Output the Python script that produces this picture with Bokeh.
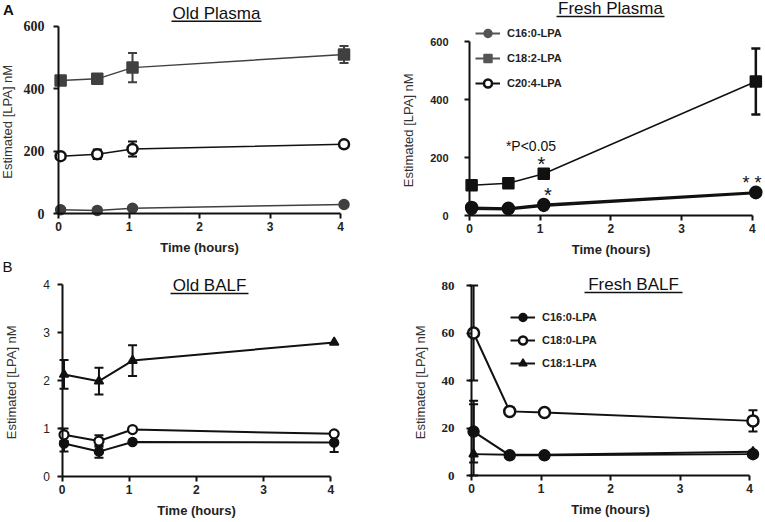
import numpy as np
from bokeh.plotting import figure
from bokeh.layouts import row, column
from bokeh.models import (ColumnDataSource, Whisker, TeeHead, Legend, LegendItem,
                          Label, FixedTicker, Range1d)
from bokeh.core.properties import value
from bokeh.embed import file_html
from bokeh.resources import INLINE

# ---------------- data ----------------
TIME = [0.03, 0.55, 1.05, 4.05]
X_TICKS = [0, 1, 2, 3, 4]

# Old plasma (A, left)
OP_C160 = [12, 10, 17, 29]
OP_C160_ERR = [0, 0, 0, 0]
OP_C182 = [427, 432, 468, 510]
OP_C182_ERR = [5, 15, 47, 27]
OP_C204 = [184, 190, 207, 222]
OP_C204_ERR = [5, 15, 24, 6]
OP_Y_TICKS = [0, 200, 400, 600]

# Fresh plasma (A, right)
FP_C160 = [22, 21, 33, 77]
FP_C182 = [104, 111, 144, 462]
FP_C182_ERR = [3, 4, 6, 114]
FP_C204 = [28, 25, 38, 80]
FP_Y_TICKS = [0, 200, 400, 600]
FP_LEGEND = ["C16:0-LPA", "C18:2-LPA", "C20:4-LPA"]
FP_STAR_TEXT = ["*", "*", "* *"]
FP_NOTE = "*P<0.05"

# Old BALF (B, left)
OB_C160 = [0.69, 0.52, 0.72, 0.71]
OB_C160_ERR = [0.17, 0.13, 0.0, 0.2]
OB_C180 = [0.87, 0.74, 0.98, 0.89]
OB_C180_ERR = [0.13, 0.12, 0.0, 0.03]
OB_C181 = [2.13, 1.99, 2.42, 2.8]
OB_C181_ERR = [0.3, 0.28, 0.32, 0.0]
OB_Y_TICKS = [0, 1, 2, 3, 4]

# Fresh BALF (B, right)
FB_C160 = [18.5, 8.5, 8.5, 9]
FB_C160_ERR = [13, 0.0, 0.0, 0.0]
FB_C180 = [60, 27, 26.5, 23]
FB_C180_ERR = [20, 1, 0.0, 4.5]
FB_C181 = [9, 8.7, 8.7, 10]
FB_C181_ERR = [21, 0.0, 0.0, 0.0]
FB_Y_TICKS = [0, 20, 40, 60, 80]
FB_LEGEND = ["C16:0-LPA", "C18:0-LPA", "C18:1-LPA"]

TITLES = ["Old Plasma", "Fresh Plasma", "Old BALF", "Fresh BALF"]
PANEL_LETTERS = ["A", "B"]
Y_LABEL = "Estimated [LPA]  nM"
X_LABEL = "Time (hours)"

# ---------------- layout (pixels) ----------------
SANS = "Liberation Sans"
SERIF = "Liberation Serif"
GRAY = "#404040"
LEG_GRAY = "#555555"
BLACK = "#111111"

# panel geometry: figure left/top/width/height, pixel of x=0, px per hour,
# pixel of y=0, px per y unit
GEOM = {
    "tl": dict(fx=0, fy=0, W=380, H=258, x0=58, sx=70.5, y0=213, sy=0.3117),
    "tr": dict(fx=380, fy=0, W=384, H=258, x0=469, sx=70.7, y0=215, sy=0.29),
    "bl": dict(fx=0, fy=258, W=380, H=262, x0=61.5, sx=67.2, y0=476, sy=47.9),
    "br": dict(fx=380, fy=258, W=384, H=262, x0=471, sx=69.5, y0=475, sy=2.375),
}
# title centre (x, y), underline y, underline half width
TITLE_POS = {"tl": (216, 12.5, 20.7, 45), "tr": (610, 8, 16, 54),
             "bl": (209, 285, 293, 39), "br": (633, 283.5, 292, 49)}


def X(g, ax):
    return (ax - g["x0"]) / g["sx"]


def Y(g, ay):
    return (g["y0"] - ay) / g["sy"]


def make_fig(key, yticks, ytick_font, ytick_size, ytick_style, ytick_standoff,
             ylab_standoff):
    g = GEOM[key]
    xr = Range1d(X(g, g["fx"]), X(g, g["fx"] + g["W"]))
    yr = Range1d(Y(g, g["fy"] + g["H"]), Y(g, g["fy"]))
    p = figure(width=g["W"], height=g["H"], x_range=xr, y_range=yr, output_backend="svg",
               toolbar_location=None, min_border=0)
    p.grid.visible = False
    p.outline_line_color = None
    p.background_fill_color = "white"
    p.border_fill_color = "white"
    xa = p.xaxis[0]
    ya = p.yaxis[0]
    for ax in (xa, ya):
        ax.axis_line_width = 2
        ax.axis_line_color = "#111111"
        ax.major_tick_line_width = 2
        ax.major_tick_line_color = "#111111"
        ax.major_tick_out = 5
        ax.major_tick_in = 0
        ax.minor_tick_line_color = None
        ax.major_label_text_color = "#222222"
    xa.fixed_location = 0
    ya.fixed_location = 0
    xa.ticker = FixedTicker(ticks=X_TICKS)
    xa.bounds = (0, 4)
    xa.major_label_text_font = SANS
    xa.major_label_text_font_size = "12px"
    xa.major_label_text_font_style = "bold"
    xa.major_label_standoff = 3
    xa.axis_label = X_LABEL
    xa.axis_label_text_font = SANS
    xa.axis_label_text_font_size = "13px"
    xa.axis_label_text_font_style = "bold"
    xa.axis_label_text_color = "#222222"
    xa.axis_label_standoff = 6
    ya.ticker = FixedTicker(ticks=yticks)
    ya.bounds = (0, yticks[-1])
    ya.major_label_text_font = ytick_font
    ya.major_label_text_font_size = ytick_size
    ya.major_label_text_font_style = ytick_style
    ya.major_label_standoff = ytick_standoff
    ya.axis_label = Y_LABEL
    ya.axis_label_text_font = SANS
    ya.axis_label_text_font_size = "13px"
    ya.axis_label_text_font_style = "normal"
    ya.axis_label_text_color = "#333333"
    ya.axis_label_standoff = ylab_standoff
    return p


def add_title(p, key, text):
    g = GEOM[key]
    cx, cy, uy, half = TITLE_POS[key]
    p.add_layout(Label(x=X(g, cx), y=Y(g, cy), text=text, text_align="center",
                       text_baseline="middle", text_font=SANS, text_font_size="17px",
                       text_color="#111111"))
    p.segment(x0=[X(g, cx - half)], y0=[Y(g, uy)], x1=[X(g, cx + half)], y1=[Y(g, uy)],
              line_color="#111111", line_width=1.5)


def add_letter(p, key, text, ax, ay, style):
    g = GEOM[key]
    p.add_layout(Label(x=X(g, ax), y=Y(g, ay), text=text, text_align="center",
                       text_baseline="middle", text_font=SANS, text_font_size="15px",
                       text_font_style=style, text_color="#111111"))


def series(p, ys, errs, marker, size, color, fill, lw=1.5, olw=1.5, wlw=2):
    if errs is not None:
        base = [t for t, e in zip(TIME, errs) if e > 0]
        up = [y + e for y, e in zip(ys, errs) if e > 0]
        lo = [max(0, y - e) for y, e in zip(ys, errs) if e > 0]
        if base:
            src = ColumnDataSource(dict(base=base, upper=up, lower=lo))
            p.add_layout(Whisker(base="base", upper="upper", lower="lower", source=src,
                                 line_color=color, line_width=wlw,
                                 upper_head=TeeHead(size=9, line_color=color, line_width=wlw),
                                 lower_head=TeeHead(size=9, line_color=color, line_width=wlw)))
    l = p.line(TIME, ys, line_color=color, line_width=lw)
    s = p.scatter(TIME, ys, marker=marker, size=size, fill_color=fill, line_color=color,
                  line_width=olw)
    return [l, s]


def legend_only(p, marker, size, color, fill, olw, lw=2):
    src = ColumnDataSource(dict(x=np.array([np.nan]), y=np.array([np.nan])))
    l = p.line("x", "y", source=src, line_color=color, line_width=lw)
    s = p.scatter("x", "y", source=src, marker=marker, size=size, fill_color=fill,
                  line_color=color, line_width=olw)
    return [l, s]


def make_legend(key, labels, renderer_pairs, glyph_left, top, spacing):
    g = GEOM[key]
    n = len(labels)
    height = n * 20 + (n - 1) * spacing
    loc = (glyph_left - g["fx"], g["fy"] + g["H"] - (top + height))
    items = [LegendItem(label=lab, renderers=rs) for lab, rs in zip(labels, renderer_pairs)]
    leg = Legend(items=items, location=loc)
    leg.border_line_color = None
    leg.background_fill_alpha = 0
    leg.padding = 0
    leg.margin = 0
    leg.spacing = spacing
    leg.label_height = 20
    leg.glyph_height = 20
    leg.glyph_width = 25
    leg.label_standoff = 7
    leg.label_text_font = SANS
    leg.label_text_font_size = "11px"
    leg.label_text_font_style = "bold"
    leg.label_text_color = "#222222"
    return leg


# ---------- A left: Old Plasma ----------
tl = make_fig("tl", OP_Y_TICKS, SERIF, "14px", "bold", 9, 6)
series(tl, OP_C160, OP_C160_ERR, "circle", 10, GRAY, GRAY)
series(tl, OP_C204, OP_C204_ERR, "circle", 10, BLACK, "white", olw=2.5)
series(tl, OP_C182, OP_C182_ERR, "square", 11, GRAY, GRAY)
add_title(tl, "tl", TITLES[0])
add_letter(tl, "tl", PANEL_LETTERS[0], 8, 9, "bold")

# ---------- A right: Fresh Plasma ----------
g = GEOM["tr"]
tr = make_fig("tr", FP_Y_TICKS, SANS, "11px", "bold", 16, 11)
series(tr, FP_C204, None, "circle", 11, BLACK, "white", lw=2, olw=2.5)
series(tr, FP_C160, None, "circle", 11, BLACK, BLACK, lw=2)
series(tr, FP_C182, FP_C182_ERR, "square", 11, BLACK, BLACK, lw=1.5, wlw=2.5)
add_title(tr, "tr", TITLES[1])
star_px = [(541, 163.4), (547.3, 194.4), (751.5, 182.7)]
star_sizes = ["20px", "20px", "18px"]
tr.text(x=[X(g, a) for a, b in star_px], y=[Y(g, b) for a, b in star_px], text=FP_STAR_TEXT,
        text_align="center", text_baseline="middle", text_font=value(SANS),
        text_font_size=star_sizes, text_color="#111111")
tr.text(x=[X(g, 530.5)], y=[Y(g, 145)], text=[FP_NOTE], text_align="center",
        text_baseline="middle", text_font=value(SANS), text_font_size="14px",
        text_color="#111111")
leg_c160 = legend_only(tr, "circle", 10, LEG_GRAY, LEG_GRAY, 1.5)
leg_c182 = legend_only(tr, "square", 10, LEG_GRAY, LEG_GRAY, 1.5)
leg_c204 = legend_only(tr, "circle", 10, BLACK, "white", 2.5)
tr.add_layout(make_legend("tr", FP_LEGEND, [leg_c160, leg_c182, leg_c204], 475, 23, 5))

# ---------- B left: Old BALF ----------
bl = make_fig("bl", OB_Y_TICKS, SANS, "12px", "normal", 7, 22)
series(bl, OB_C160, OB_C160_ERR, "circle", 9, BLACK, BLACK, lw=2)
series(bl, OB_C180, OB_C180_ERR, "circle", 9, BLACK, "white", lw=2, olw=2.2)
series(bl, OB_C181, OB_C181_ERR, "triangle", 9, BLACK, BLACK, lw=2)
add_title(bl, "bl", TITLES[2])
add_letter(bl, "bl", PANEL_LETTERS[1], 7, 266, "normal")

# ---------- B right: Fresh BALF ----------
br = make_fig("br", FB_Y_TICKS, SERIF, "13px", "bold", 12, 11)
r_b181 = series(br, FB_C181, FB_C181_ERR, "triangle", 9, BLACK, BLACK, lw=2)
r_b160 = series(br, FB_C160, FB_C160_ERR, "circle", 11, BLACK, BLACK, lw=2)
r_b180 = series(br, FB_C180, FB_C180_ERR, "circle", 11, BLACK, "white", lw=2, olw=2.5)
add_title(br, "br", TITLES[3])
br.add_layout(make_legend("br", FB_LEGEND, [r_b160, r_b180, r_b181], 510, 306.7, 3))

layout = column(row(tl, tr), row(bl, br))
open("out.html", "w").write(file_html(layout, INLINE))
